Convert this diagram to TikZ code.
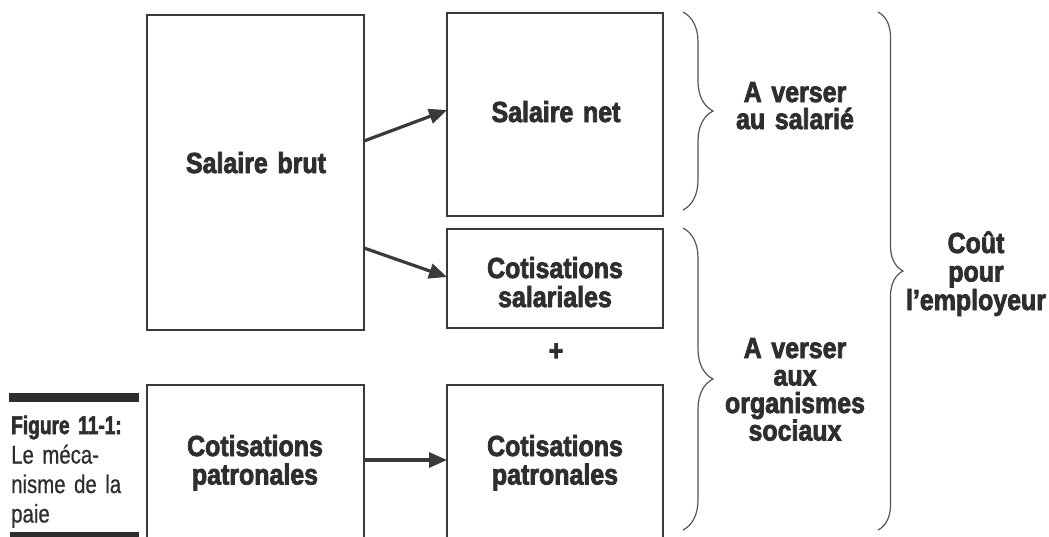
\documentclass[tikz,border=0pt]{standalone}
\usepackage{fontspec}
\setmainfont{Liberation Sans}
\newfontfamily\boxfont{Liberation Sans Bold}[FakeStretch=0.86, FakeBold=2.6]
\newfontfamily\capreg{Liberation Sans}[FakeStretch=0.8, FakeBold=0.6]
\newfontfamily\capbold{Liberation Sans Bold}[FakeStretch=0.75, FakeBold=2.2]
\usetikzlibrary{arrows.meta,decorations.pathreplacing}
\definecolor{linec}{HTML}{3A3A3A}
\definecolor{txtc}{HTML}{2E2E2E}
\definecolor{bracec}{HTML}{555555}
\tikzset{
  box/.style={draw=linec, line width=1.8pt, inner sep=0pt, outer sep=0pt},
  lbl/.style={text=txtc, font=\boxfont\fontsize{29pt}{28.5pt}\selectfont,
    inner sep=0pt, anchor=base, align=center, text width=240pt},
  arr/.style={draw=linec, line width=3.2pt, -{Triangle[length=18pt,width=15pt]}},
  brc/.style={draw=bracec, line width=1.2pt, decorate, decoration={brace, amplitude=#1}},
  bar/.style={fill=txtc, draw=none}
}
\begin{document}
\begin{tikzpicture}[x=1pt,y=-1pt]
\useasboundingbox (0,0) rectangle (1049,536);
\clip (0,0) rectangle (1049,536);
% boxes
\node[box, minimum width=217pt, minimum height=315pt] (brut) at (255.5,172.5) {};
\node[box, minimum width=216pt, minimum height=203pt] (net) at (555,114.5) {};
\node[box, minimum width=216pt, minimum height=99pt] (sal) at (555,278.5) {};
\node[box, minimum width=217pt, minimum height=160pt] (patl) at (255.5,465) {};
\node[box, minimum width=216pt, minimum height=160pt] (patr) at (555,465) {};
% labels in boxes
\node[lbl] (tbrut) at (256,173) {Salaire brut};
\node[lbl] (tnet) at (556,122) {Salaire net};
\node[lbl, font=\boxfont\fontsize{29pt}{29pt}\selectfont] (tsal) at (555,278) {Cotisations\\salariales};
\node[lbl] (tpatl) at (255,456) {Cotisations\\patronales};
\node[lbl] (tpatr) at (555,456) {Cotisations\\patronales};
\node[text=txtc, font=\boxfont\fontsize{29pt}{28.5pt}\selectfont, inner sep=0pt] (tplus) at (556,352) {+};
% arrows
\draw[arr] ([yshift=31.5pt]brut.east) -- ([yshift=4.5pt]net.west);
\draw[arr] ([yshift=-75.5pt]brut.east) -- ([yshift=1.5pt]sal.west);
\draw[arr] ([yshift=5pt]patl.east) -- ([yshift=5pt]patr.west);
% braces
\coordinate (b1t) at (683,12);
\coordinate (b1b) at (683,210);
\coordinate (b2t) at (683,228);
\coordinate (b2b) at (683,530);
\coordinate (b3t) at (878,12);
\coordinate (b3b) at (878,530);
\draw[brc=30pt] (b1t) -- (b1b);
\draw[brc=30pt] (b2t) -- (b2b);
\draw[brc=25pt] (b3t) -- (b3b);
% brace labels
\node[lbl, font=\boxfont\fontsize{29pt}{27pt}\selectfont] (tv1) at (795,102) {A verser\\au salarié};
\node[lbl, font=\boxfont\fontsize{29pt}{27.5pt}\selectfont] (tv2) at (795,358) {A verser\\aux\\organismes\\sociaux};
\node[lbl] (tcout) at (976,253) {Coût\\pour\\l’employeur};
% caption
\fill[bar] (9,393) rectangle (139,402);
\fill[bar] (10,532) rectangle (139,540);
\node[text=txtc, inner sep=0pt, anchor=base west, align=left, text width=135pt,
  font=\capreg\fontsize{25.5pt}{29.5pt}\selectfont] (tfig) at (11,434)
  {{\capbold Figure 11-1:}\\Le méca-\\nisme de la\\paie};
\end{tikzpicture}
\end{document}
